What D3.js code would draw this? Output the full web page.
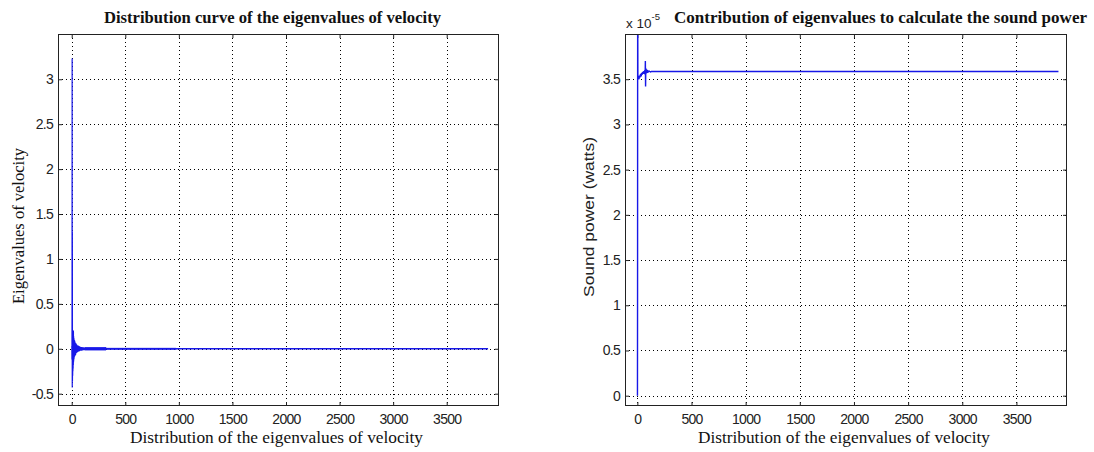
<!DOCTYPE html>
<html>
<head>
<meta charset="utf-8">
<script src="https://cdn.jsdelivr.net/npm/d3@7/dist/d3.min.js"></script>
<style>
  html, body { margin: 0; padding: 0; background: #fff; }
  svg { display: block; }
  .tick text { font-family: "Liberation Sans", Arial, sans-serif; font-size: 14px; fill: #222; letter-spacing: -0.7px; }
</style>
</head>
<body>
<svg id="fig" width="1094" height="452"></svg>
<script>
// ---- Data -------------------------------------------------------------
// Shared x ticks (eigenvalue index)
const xTicks = [0, 500, 1000, 1500, 2000, 2500, 3000, 3500];
const yTicksEig = [-0.5, 0, 0.5, 1, 1.5, 2, 2.5, 3];
const yTicksPow = [0, 0.5, 1, 1.5, 2, 2.5, 3, 3.5];

// Eigenvalues of velocity: leading, strongly oscillating part
const eigIndex = [1, 2, 3, 4, 5, 6, 7, 8, 9, 10, 11, 12, 13, 14, 15, 16, 17, 18, 19, 20,
  22, 24, 26, 28, 30, 33, 36, 39, 42, 45, 48, 52, 56, 60, 64, 68, 72, 76, 80, 85,
  90, 95, 100, 105, 110, 115, 120, 125];
const eigValue = [0.03, -0.12, 0.35, 3.23, -0.43, 1.30, -0.36, 0.18, -0.30, 0.21, -0.25, 0.19, -0.22, 0.16, -0.18, 0.20, -0.15, 0.14, -0.13, 0.12,
  -0.11, 0.10, -0.09, 0.09, -0.08, 0.07, -0.07, 0.06, -0.05, 0.05, -0.045, 0.04, -0.035, 0.035, -0.03, 0.03, -0.028, 0.025, -0.022, 0.02,
  -0.02, 0.018, -0.017, 0.016, -0.016, 0.015, -0.015, 0.014];
// Envelope of the small residual oscillation band
const bandIndex = [125, 320, 320, 975];
const bandUpper = [0.014, 0.014, 0.005, 0.005];
const bandLower = [-0.014, -0.014, -0.005, -0.005];
// Settled tail
const tailIndex = [125, 3886];
const tailValue = [0, 0];

// Cumulative sound power (x 1e-5 W)
const powIndex = [1, 2, 3, 5, 10, 15, 20, 25, 30, 35, 40, 45, 50, 55, 60, 65, 70, 72, 74, 76, 78, 80,
  85, 90, 95, 100, 110, 120, 130, 145, 3888];
const powValue = [0, 1.18, 4.6, 3.51, 3.52, 3.50, 3.54, 3.52, 3.56, 3.53, 3.57, 3.55, 3.58, 3.56, 3.59, 3.56, 3.60, 3.55, 3.70, 3.42, 3.62, 3.56,
  3.61, 3.57, 3.60, 3.58, 3.59, 3.58, 3.585, 3.585, 3.585];

// ---- Layout -----------------------------------------------------------
const svg = d3.select("#fig");
const lineColor = "#1818e8";

function makeAxes(opts) {
  const { left, right, top, bottom, xDomain, yDomain, yTicks, id } = opts;
  const x = d3.scaleLinear().domain(xDomain).range([left, right]);
  const y = d3.scaleLinear().domain(yDomain).range([bottom, top]);
  const g = svg.append("g");
  const w = right - left, h = bottom - top;

  g.append("defs").append("clipPath").attr("id", id)
    .append("rect").attr("x", left).attr("y", top).attr("width", w).attr("height", h);

  // dotted grid
  const grid = g.append("g").attr("stroke", "#000").attr("stroke-width", 1)
    .attr("stroke-dasharray", "1,3");
  grid.selectAll("line.gx").data(xTicks).join("line")
    .attr("x1", d => Math.round(x(d)) + 0.5).attr("x2", d => Math.round(x(d)) + 0.5)
    .attr("y1", top).attr("y2", bottom);
  grid.selectAll("line.gy").data(yTicks).join("line")
    .attr("y1", d => Math.round(y(d)) + 0.5).attr("y2", d => Math.round(y(d)) + 0.5)
    .attr("x1", left).attr("x2", right);

  const fmt = d => String(d);
  const ax = (axis, tr) => {
    const a = g.append("g").attr("transform", tr).call(axis);
    a.select(".domain").remove();
    a.selectAll(".tick line").attr("stroke", "#222");
    return a;
  };
  ax(d3.axisBottom(x).tickValues(xTicks).tickSize(-4).tickPadding(8).tickFormat(fmt),
     `translate(0,${bottom})`);
  ax(d3.axisTop(x).tickValues(xTicks).tickSize(-4).tickFormat(""), `translate(0,${top})`);
  ax(d3.axisLeft(y).tickValues(yTicks).tickSize(-4).tickPadding(5).tickFormat(fmt),
     `translate(${left},0)`);
  ax(d3.axisRight(y).tickValues(yTicks).tickSize(-4).tickFormat(""), `translate(${right},0)`);

  const plot = g.append("g").attr("clip-path", `url(#${id})`);
  g.append("rect").attr("x", left + 0.5).attr("y", top + 0.5).attr("width", w - 1).attr("height", h - 1)
    .attr("fill", "none").attr("stroke", "#222").attr("stroke-width", 1);
  return { x, y, g, plot };
}

// ---- Left panel: eigenvalues of velocity -------------------------------
const L = makeAxes({ left: 58, right: 499, top: 34, bottom: 406,
  xDomain: [-128, 3988], yDomain: [-0.637, 3.504], yTicks: yTicksEig, id: "clipL" });

const band = d3.area()
  .x(i => L.x(bandIndex[i])).y0(i => L.y(bandLower[i])).y1(i => L.y(bandUpper[i]));
L.plot.append("path").datum(d3.range(bandIndex.length)).attr("d", band)
  .attr("fill", lineColor).attr("stroke", lineColor).attr("stroke-width", 0.8);

const lineL = d3.line().x(d => L.x(d[0])).y(d => L.y(d[1]));
L.plot.append("path").datum(d3.zip(tailIndex, tailValue)).attr("d", lineL)
  .attr("fill", "none").attr("stroke", lineColor).attr("stroke-width", 1.4);
L.plot.append("path").datum(d3.zip(eigIndex, eigValue)).attr("d", lineL)
  .attr("fill", "none").attr("stroke", lineColor).attr("stroke-width", 1.2);

// ---- Right panel: contribution to sound power --------------------------
const R = makeAxes({ left: 625, right: 1067, top: 34, bottom: 406,
  xDomain: [-114, 3967], yDomain: [-0.114, 4.0], yTicks: yTicksPow, id: "clipR" });
const lineR = d3.line().x(d => R.x(d[0])).y(d => R.y(d[1]));
R.plot.append("path").datum(d3.zip(powIndex, powValue)).attr("d", lineR)
  .attr("fill", "none").attr("stroke", lineColor).attr("stroke-width", 1.4);

// ---- Text ---------------------------------------------------------------
const serif = '"Liberation Serif", "Times New Roman", serif';
const sans = '"Liberation Sans", Arial, sans-serif';

function label(txt, x, y, opts) {
  const t = svg.append("text").text(txt)
    .attr("x", x).attr("y", y)
    .attr("font-family", opts.font).attr("font-size", opts.size)
    .attr("font-weight", opts.weight || "normal")
    .attr("fill", opts.fill || "#111")
    .attr("text-anchor", opts.anchor || "middle");
  if (opts.len) t.attr("textLength", opts.len).attr("lengthAdjust", "spacingAndGlyphs");
  if (opts.rotate) t.attr("transform", `rotate(-90, ${x}, ${y})`);
  return t;
}

label("Distribution curve of the eigenvalues of velocity", 104, 23,
  { font: serif, size: 17, weight: "bold", anchor: "start", len: 337 });
label("Distribution of the eigenvalues of velocity", 130, 443,
  { font: serif, size: 17, anchor: "start", len: 293 });
label("Eigenvalues of velocity", 24, 226,
  { font: serif, size: 17, rotate: true, len: 156 });

label("Contribution of eigenvalues to calculate the sound power", 674, 23,
  { font: serif, size: 17, weight: "bold", anchor: "start", len: 413 });
label("Distribution of the eigenvalues of velocity", 698, 443,
  { font: serif, size: 17, anchor: "start", len: 292 });
label("Sound power (watts)", 594, 217,
  { font: sans, size: 15.5, rotate: true, len: 160, fill: "#222" });

// exponent marker above the right axis
const ex = svg.append("text").attr("x", 626).attr("y", 28)
  .attr("font-family", sans).attr("font-size", 13.5).attr("fill", "#222");
ex.append("tspan").text("x 10");
ex.append("tspan").text("-5").attr("font-size", 9.5).attr("dy", -8);
</script>
</body>
</html>
